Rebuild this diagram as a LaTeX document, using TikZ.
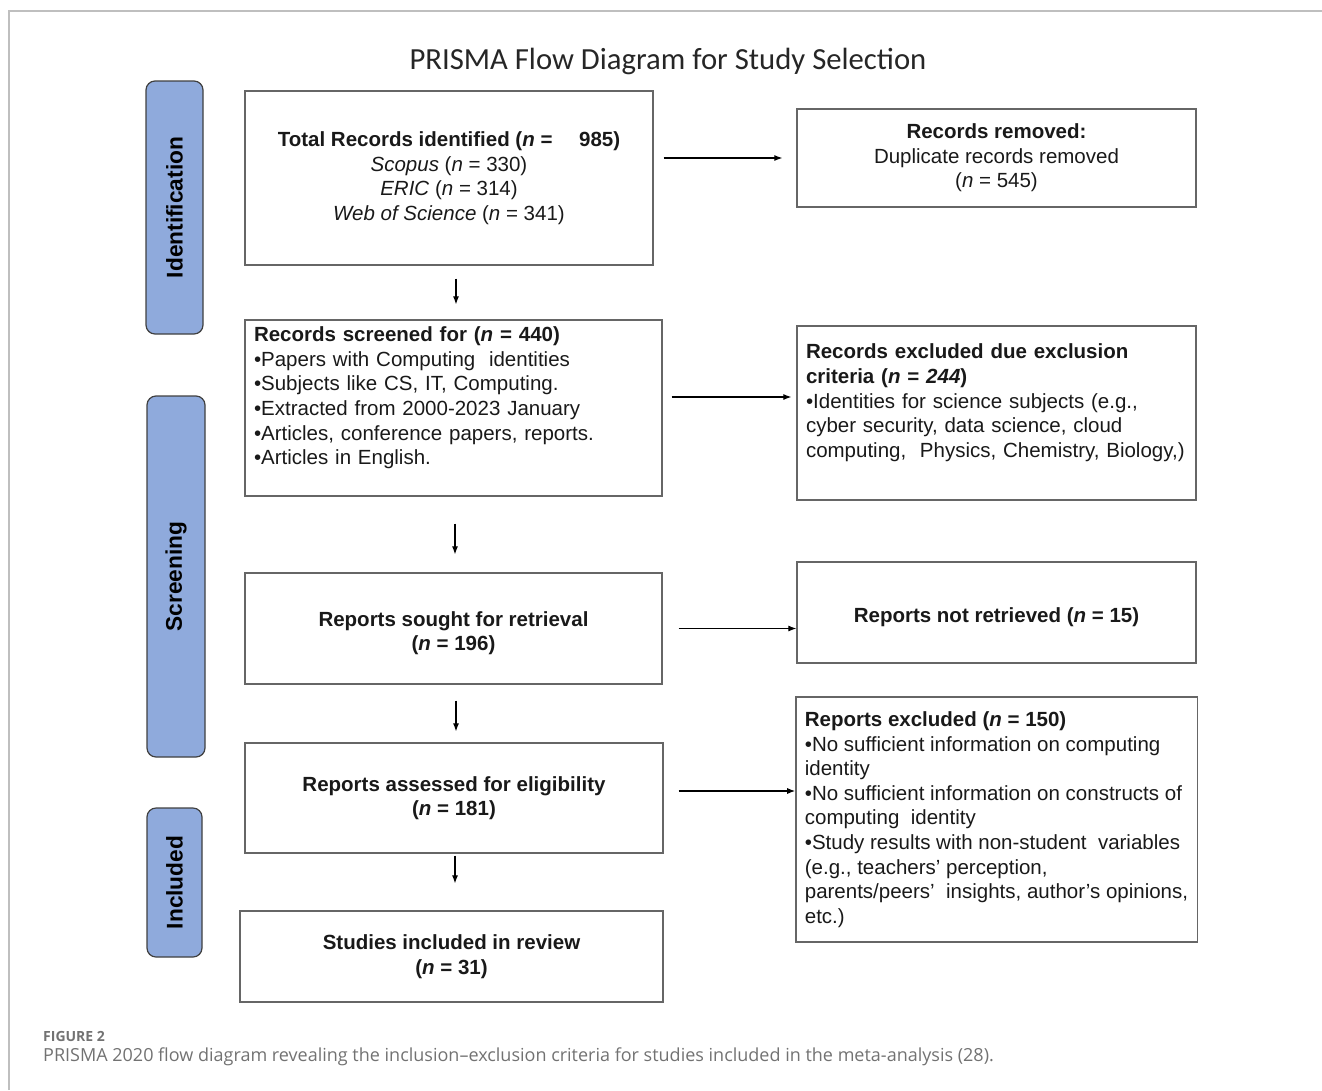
\documentclass[tikz,border=0pt]{standalone}
\usepackage{fontspec}
\setmainfont{Liberation Sans}
\newfontfamily\titlefont{Carlito}
\newfontfamily\capfont{Open Sans}
\usetikzlibrary{arrows.meta}
\definecolor{phaseblue}{HTML}{8FAADC}
\definecolor{boxgray}{HTML}{666666}
\definecolor{capgray}{HTML}{727272}
\tikzset{every picture/.append style={x=1pt, y=-1pt}}
\tikzset{
    box/.style={draw=boxgray, line width=1.3pt, inner xsep=9pt, inner ysep=0pt,
    	text=black!90, font=\fontsize{20.5}{24.6}\selectfont},
    stage/.style={draw=black!75, fill=phaseblue, rounded corners=9pt, rotate=90,
    	line width=1.2pt, inner sep=0pt, font=\fontsize{22.7}{26}\selectfont\bfseries},
    arr/.style={-{Latex[length=8pt,width=6pt]}, line width=1.1pt}
}

\begin{document}
\begin{tikzpicture}
  \useasboundingbox (0,0) rectangle (1322,1090);
  \draw [black!25, line width=1.5pt] (9,1090) -- (9,11) -- (1322,11);

  \node (title) [font=\titlefont\fontsize{30.7}{37}\selectfont, text=black!85] at (668, 61) {PRISMA Flow Diagram for Study Selection};

  \node (idphase) [stage, minimum width=253, minimum height=57] at (174.5, 207.5) {Identification};
  \node (scphase) [stage, minimum width=361, minimum height=58] at (176, 576.5) {Screening};
  \node (inphase) [stage, minimum width=149, minimum height=55] at (174.5, 882.5) {Included};

  \node (total) [box, minimum width=408, minimum height=174, align=center] at (449, 178)
    {\textbf{Total Records identified (\textit{n} =\hspace{1.3em}985)}\\
     \textit{Scopus} (\textit{n} = 330)\\
     \textit{ERIC} (\textit{n} = 314)\\
     \textit{Web of Science} (\textit{n} = 341)};
  \node (screened) [box, text width=399, minimum height=176, align=left] at (453.5, 408)
    {\textbf{Records screened for (\textit{n} = 440)}\\
     •Papers with Computing\ \ identities\\
     •Subjects like CS, IT, Computing.\\
     •Extracted from 2000-2023 January\\
     •Articles, conference papers, reports.\\
     •Articles in English.\\ \mbox{}};
  \node (sought) [box, minimum width=417, minimum height=111, align=center] at (453.5, 628.5)
    {\mbox{}\\ \textbf{Reports sought for retrieval}\\ \textbf{(\textit{n} = 196)}};
  \node (assessed) [box, minimum width=418, minimum height=110, align=center] at (454, 798)
    {\textbf{Reports assessed for eligibility}\\ \textbf{(\textit{n} = 181)}};
  \node (included) [box, minimum width=423, minimum height=91, align=center] at (451.5, 956.5)
    {\textbf{Studies included in review}\\ \textbf{(\textit{n} = 31)}};

  \node (removed) [box, minimum width=399, minimum height=98, align=center] at (996.5, 158)
    {\textbf{Records removed:}\\ Duplicate records removed\\ (\textit{n} = 545)};
  \node (excluded) [box, text width=381, minimum height=174, align=left] at (996.5, 413)
    {\textbf{Records excluded due exclusion}\\
     \textbf{criteria (\textit{n} = \textit{244})}\\
     •Identities for science subjects (e.g.,\\
     cyber security, data science, cloud\\
     computing,\ \ Physics, Chemistry, Biology,)\\ \mbox{}};
  \node (notret) [box, minimum width=399, minimum height=101, align=center] at (996.5, 612.5)
    {\mbox{}\\ \textbf{Reports not retrieved (\textit{n} = 15)}};
  \node (rptexcl) [box, minimum width=399, minimum height=245, align=left] at (996.5, 819.5)
    {\textbf{Reports excluded (\textit{n} = 150)}\\
     •No sufficient information on computing\\
     identity\\
     •No sufficient information on constructs of\\
     computing\ \ identity\\
     •Study results with non-student\ \ variables\\
     (e.g., teachers’ perception,\\
     parents/peers’\ \ insights, author’s opinions,\\
     etc.)};

  \draw [arr, shorten <=13, shorten >=15] ([xshift=7]total.south) -- ([xshift=7]total.south |- screened.north);
  \draw [arr, shorten <=27, shorten >=18] ([xshift=1.5]screened.south) -- ([xshift=1.5]screened.south |- sought.north);
  \draw [arr, shorten <=16, shorten >=11] ([xshift=2.5]sought.south) -- ([xshift=2.5]sought.south |- assessed.north);
  \draw [arr, shorten <=2, shorten >=27] ([xshift=1]assessed.south) -- ([xshift=1]assessed.south |- included.north);

  \draw [arr, shorten <=10, shorten >=14] (total.east |- removed.west) -- (removed.west);
  \draw [arr, shorten <=9, shorten >=5] ([yshift=11]screened.east) -- ([yshift=11]screened.east -| excluded.west);
  \draw [arr, shorten <=16] (sought.east) -- (sought.east -| notret.west);
  \draw [arr, shorten <=15] ([yshift=7]assessed.east) -- ([yshift=7]assessed.east -| rptexcl.west);

  \node (fignum) [anchor=base west, inner sep=0pt, text=capgray, font=\capfont\fontsize{14}{16}\selectfont\bfseries] at (43, 1041) {FIGURE 2};
  \node (caption) [anchor=base west, inner sep=0pt, text=capgray, font=\capfont\fontsize{18}{21}\selectfont] at (43, 1061)
    {PRISMA 2020 flow diagram revealing the inclusion–exclusion criteria for studies included in the meta-analysis (28).};
\end{tikzpicture}
\end{document}
